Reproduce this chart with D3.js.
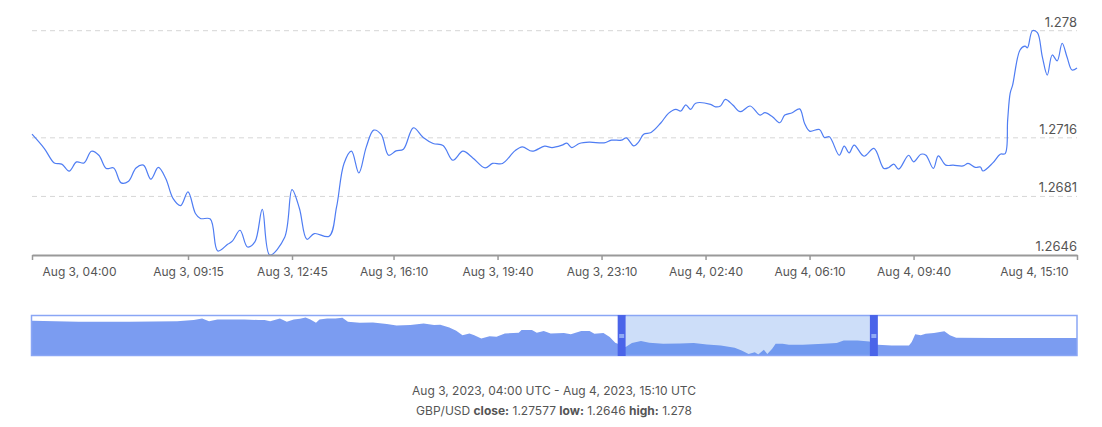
<!DOCTYPE html>
<html>
<head>
<meta charset="utf-8">
<script src="https://cdn.jsdelivr.net/npm/d3@7/dist/d3.min.js"></script>
<style>
  html, body { margin: 0; padding: 0; background: #fff; }
  svg { display: block; font-family: Inter, "Noto Sans", sans-serif; }
</style>
</head>
<body>
<svg id="chart" width="1102" height="427"></svg>
<script>
// ---- Data (GBP/USD, 10-min closes) ----
const seriesName = "GBP/USD";
const startTime = "2023-08-03T04:00:00Z";
const endTime = "2023-08-04T15:10:00Z";
// minutes after start
const minutes = [0,25,45,60,75,90,105,120,135,150,165,180,195,210,225,240,255,270,285,300,315,330,340,360,375,395,405,420,435,450,465,480,510,525,540,555,570,600,615,630,645,660,675,690,705,720,735,750,770,790,810,830,850,870,890,915,930,950,975,990,1010,1035,1050,1070,1080,1090,1105,1125,1155,1170,1190,1200,1215,1225,1235,1250,1270,1285,1300,1310,1320,1330,1340,1370,1380,1390,1400,1415,1430,1450,1470,1480,1495,1510,1520,1535,1550,1560,1570,1590,1600,1610,1630,1640,1650,1660,1680,1700,1720,1730,1740,1750,1770,1780,1795,1805,1820,1830,1845,1860,1880,1890,1905,1915,1920,1940,1955,1965,1970,1975,1980,1995,2005,2010,2020,2030,2040,2050,2060,2070,2080,2090,2100,2110];
const closes = [1.27182,1.27096,1.2701,1.27003,1.26961,1.27016,1.2701,1.2708,1.27056,1.26977,1.2698,1.26891,1.26901,1.2698,1.26997,1.26913,1.26983,1.26917,1.26797,1.26755,1.26837,1.26708,1.26678,1.26675,1.26484,1.26524,1.26544,1.26608,1.26508,1.26538,1.26732,1.2646,1.26564,1.26851,1.26738,1.26554,1.26588,1.26572,1.26747,1.27007,1.2708,1.2695,1.27106,1.27206,1.2718,1.27056,1.27082,1.27092,1.2722,1.27162,1.27126,1.27114,1.27026,1.2708,1.2704,1.2698,1.27007,1.27007,1.27082,1.27106,1.2708,1.2711,1.27102,1.27116,1.27128,1.27102,1.27126,1.27134,1.2713,1.27146,1.27146,1.2716,1.27112,1.27136,1.27182,1.27192,1.2725,1.27306,1.2733,1.2732,1.27357,1.2733,1.27367,1.2736,1.27345,1.2735,1.2739,1.27356,1.27316,1.2735,1.27296,1.2731,1.27286,1.2725,1.27296,1.2731,1.27333,1.27246,1.272,1.2721,1.27162,1.27166,1.27056,1.2711,1.2707,1.27116,1.2705,1.27097,1.26977,1.26983,1.27003,1.26973,1.27056,1.27016,1.27062,1.27056,1.26977,1.27052,1.26997,1.26997,1.26992,1.27007,1.26983,1.26986,1.26962,1.2701,1.27062,1.27066,1.27266,1.27426,1.27475,1.27685,1.27708,1.27698,1.278,1.27788,1.27644,1.27535,1.27655,1.2762,1.27725,1.27641,1.27565,1.27577];

const yTicks = [1.2646, 1.2681, 1.2716, 1.278];
const xTickLabels = ["2023-08-03T04:00:00Z","2023-08-03T09:15:00Z","2023-08-03T12:45:00Z","2023-08-03T16:10:00Z","2023-08-03T19:40:00Z","2023-08-03T23:10:00Z","2023-08-04T02:40:00Z","2023-08-04T06:10:00Z","2023-08-04T09:40:00Z","2023-08-04T15:10:00Z"];

// navigator: longer history (hours after navStart) and closes
const navStart = "2023-07-30T14:30:00Z";
const navEnd = "2023-08-05T21:00:00Z";
const navHours = [0,6.7,14,20.9,23.3,24.5,25.5,26.7,28.6,30.6,32.6,33.5,34.3,35.7,36.7,37.7,38.6,39.4,40.1,40.9,41.4,42.5,43.7,44.7,45.5,47.2,49.1,51.1,52.5,54.5,56.4,57.9,58.8,60.1,61.1,62,63,63.7,64.7,65.9,66.9,68.1,70.1,70.5,72,72.7,73.7,74.7,76.6,77.6,79.1,80.3,81,82.3,83.2,84,85.5,86.4,87.7,88.9,90.9,93.3,95.3,97.2,99.2,101.2,102.2,103.2,104.1,104.6,105.4,105.9,106.6,107.1,108.1,109,111,114,115.9,116.9,118.9,120.6,121.8,123.8,126.3,126.7,127.2,128,128.7,129.9,131.4,132.2,133.1,138.5,145.9,150.5];
const navCloses = [1.2806,1.2801,1.2801,1.2804,1.28095,1.28175,1.2804,1.28125,1.28125,1.28125,1.28095,1.28095,1.2804,1.28175,1.2801,1.28125,1.2816,1.2823,1.28125,1.2796,1.28125,1.28175,1.28175,1.2821,1.2801,1.2796,1.27975,1.2789,1.2782,1.2784,1.27925,1.2784,1.27855,1.2772,1.2755,1.2733,1.27415,1.2733,1.27165,1.2728,1.2725,1.27415,1.2745,1.27585,1.27585,1.2745,1.27535,1.27415,1.2744,1.2737,1.2754,1.2754,1.27405,1.2744,1.27235,1.26945,1.26725,1.2693,1.2703,1.26945,1.26895,1.2691,1.2693,1.2686,1.2681,1.2669,1.26555,1.2638,1.2647,1.2635,1.26585,1.2638,1.2664,1.26895,1.26895,1.26845,1.26845,1.26895,1.2693,1.27065,1.27065,1.27015,1.26845,1.2681,1.2681,1.2698,1.2737,1.2732,1.27405,1.2744,1.27525,1.2732,1.272,1.27185,1.27185,1.27185];
const navDomain = [1.263, 1.283];

const summary = { close: 1.27577, low: 1.2646, high: 1.278 };

// ---- Build ----
const svg = d3.select("#chart");
const t0 = new Date(startTime), t1 = new Date(endTime);
const data = minutes.map((m, i) => ({ t: new Date(+t0 + m * 60000), v: closes[i] }));

const plotLeft = 32, plotRight = 1077, plotTop = 30.7, plotBottom = 255;
const x = d3.scaleUtc().domain([t0, t1]).range([plotLeft, plotRight]);
const y = d3.scaleLinear().domain([yTicks[0], yTicks[yTicks.length - 1]]).range([plotBottom, plotTop]);

// gridlines
svg.append("g").selectAll("line").data(yTicks.slice(1)).join("line")
  .attr("x1", plotLeft).attr("x2", plotRight)
  .attr("y1", d => y(d)).attr("y2", d => y(d))
  .attr("stroke", "#d6d6d6").attr("stroke-width", 1).attr("stroke-dasharray", "5,4");

// y labels
svg.append("g").selectAll("text").data(yTicks).join("text")
  .attr("x", plotRight).attr("y", d => y(d) - 4)
  .attr("text-anchor", "end").attr("font-size", 13).attr("fill", "#555")
  .text(d => d);

// line
const line = d3.line().x(d => x(d.t)).y(d => y(d.v)).curve(d3.curveCatmullRom.alpha(0.5));
svg.append("path").datum(data).attr("d", line)
  .attr("fill", "none").attr("stroke", "#4f7df3").attr("stroke-width", 1.2);

// x axis
const fmt = d3.utcFormat("%b %-d, %H:%M");
const xAxis = d3.axisBottom(x).tickValues(xTickLabels.map(s => new Date(s))).tickFormat(fmt).tickSize(5).tickSizeOuter(0);
const gx = svg.append("g").attr("transform", `translate(0,${plotBottom})`).call(xAxis);
gx.select(".domain").attr("stroke", "#999").attr("stroke-width", 2);
gx.selectAll(".tick line").attr("stroke", "#999").attr("stroke-width", 1.5);
gx.selectAll(".tick text").attr("fill", "#555").attr("font-size", 12)
  .attr("font-family", "Inter, 'Noto Sans', sans-serif").attr("dy", "1.05em");
const ticksText = gx.selectAll(".tick text").nodes();
d3.select(ticksText[0]).attr("text-anchor", "start").attr("dx", 10);
d3.select(ticksText[ticksText.length - 1]).attr("text-anchor", "end").attr("dx", -9);

// ---- Navigator ----
const nTop = 315.5, nBottom = 355.5;
const ns = new Date(navStart), ne = new Date(navEnd);
const nx = d3.scaleUtc().domain([ns, ne]).range([plotLeft, plotRight]);
const ny = d3.scaleLinear().domain(navDomain).range([nBottom, nTop + 0.5]);
const navData = navHours.map((h, i) => ({ t: new Date(+ns + h * 3600000), v: navCloses[i] }));
const area = d3.area().x(d => nx(d.t)).y0(nBottom).y1(d => ny(d.v));
svg.append("path").datum(navData).attr("d", area).attr("fill", "#7b9cf1");

const sx0 = nx(t0), sx1 = nx(t1);
svg.append("rect").attr("x", sx0).attr("y", nTop).attr("width", sx1 - sx0).attr("height", nBottom - nTop)
  .attr("fill", "rgb(90,145,236)").attr("fill-opacity", 0.3);

svg.append("rect").attr("x", plotLeft - 0.5).attr("y", nTop).attr("width", plotRight - plotLeft + 0.5).attr("height", nBottom - nTop)
  .attr("fill", "none").attr("stroke", "#8aa6f5").attr("stroke-width", 1.5);

[sx0 - 8, sx1].forEach(hx => {
  svg.append("rect").attr("x", hx).attr("y", nTop - 0.5).attr("width", 8).attr("height", nBottom - nTop + 1)
    .attr("fill", "#4a64e9");
  svg.append("rect").attr("x", hx + 1.5).attr("y", 334).attr("width", 5).attr("height", 4)
    .attr("fill", "#8fa9f5");
});

// ---- Footer text ----
const fmtFull = d3.utcFormat("%b %-d, %Y, %H:%M UTC");
svg.append("text").attr("x", 554).attr("y", 395).attr("text-anchor", "middle")
  .attr("font-size", 12).attr("fill", "#555")
  .text(`${fmtFull(t0)} - ${fmtFull(t1)}`);
const t2 = svg.append("text").attr("x", 554).attr("y", 415).attr("text-anchor", "middle")
  .attr("font-size", 12).attr("fill", "#555");
t2.append("tspan").text(seriesName + " ");
t2.append("tspan").attr("font-weight", "bold").text("close:");
t2.append("tspan").text(" " + summary.close + " ");
t2.append("tspan").attr("font-weight", "bold").text("low:");
t2.append("tspan").text(" " + summary.low + " ");
t2.append("tspan").attr("font-weight", "bold").text("high:");
t2.append("tspan").text(" " + summary.high);
</script>
</body>
</html>
